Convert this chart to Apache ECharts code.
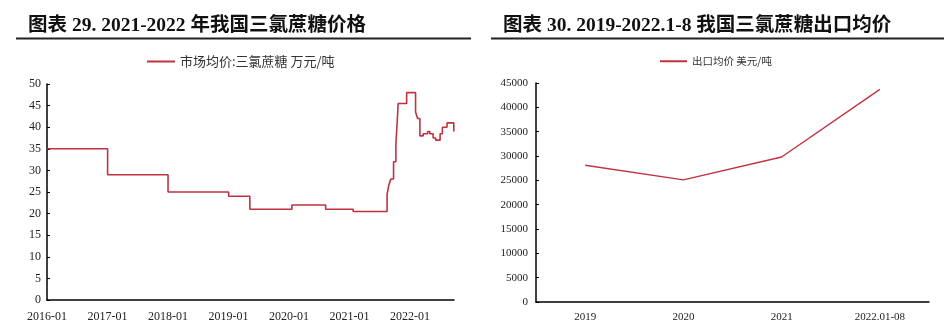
<!DOCTYPE html>
<html>
<head>
<meta charset="utf-8">
<script src="https://cdn.jsdelivr.net/npm/echarts@6/dist/echarts.min.js"></script>
<style>
html,body{margin:0;padding:0;background:#fff;}
#c{width:948px;height:327px;}
</style>
</head>
<body>
<div id="c"></div>
<script>
// Left chart: 市场均价:三氯蔗糖 (万元/吨), step changes
const priceDates = ['2016-01-01','2017-01-01','2018-01-01','2019-01-02','2019-05-10','2020-01-19','2020-08-10','2021-01-23',
  '2021-08-16','2021-08-26','2021-09-07','2021-09-24','2021-10-08','2021-10-14','2021-10-22','2021-12-12',
  '2022-02-04','2022-02-16','2022-03-02','2022-03-22','2022-04-18','2022-05-01','2022-05-21','2022-06-05',
  '2022-07-02','2022-07-16','2022-08-13','2022-09-23'];
const priceValues = [35,29,25,24,21,22,21,20.5,
  24.5,26.5,28,32,36,40,45.5,48,
  43.5,42,38,38.5,39,38.5,37.5,37,
  38.5,40,41,39];
const leftTitle = '图表 29. 2021-2022 年我国三氯蔗糖价格';
const leftLegend = '市场均价:三氯蔗糖 万元/吨';

// Right chart: 出口均价 (美元/吨)
const exportCats = ['2019','2020','2021','2022.01-08'];
const exportValues = [28100,25100,29800,43700];
const rightTitle = '图表 30. 2019-2022.1-8 我国三氯蔗糖出口均价';
const rightLegend = '出口均价 美元/吨';

const lineColor = '#C0323F';
const serif = '"Liberation Serif","Times New Roman","Noto Sans CJK SC",serif';
const labelColor = '#222';

const chart = echarts.init(document.getElementById('c'));
chart.setOption({
  animation: false,
  backgroundColor: '#fff',
  title: [
    {text: leftTitle, left: 23, top: 11, textStyle: {fontFamily: serif, fontWeight: 'bold', fontSize: 19.5, color: '#111'}},
    {text: rightTitle, left: 498, top: 11, textStyle: {fontFamily: serif, fontWeight: 'bold', fontSize: 19.5, color: '#111'}}
  ],
  graphic: [
    {type: 'line', shape: {x1: 16, y1: 38.5, x2: 471, y2: 38.5}, style: {stroke: '#222', lineWidth: 2}},
    {type: 'line', shape: {x1: 491, y1: 38.5, x2: 944, y2: 38.5}, style: {stroke: '#222', lineWidth: 2}}
  ],
  legend: [
    {data: [leftLegend], left: 142, top: 50, icon: 'rect', itemWidth: 28, itemHeight: 2, itemGap: 5,
      textStyle: {fontSize: 13, color: '#333', fontFamily: '"Noto Sans CJK SC",sans-serif'}},
    {data: [rightLegend], left: 655, top: 51, icon: 'rect', itemWidth: 27, itemHeight: 2, itemGap: 5,
      textStyle: {fontSize: 10.5, color: '#333', fontFamily: '"Noto Sans CJK SC",sans-serif'}}
  ],
  grid: [
    {left: 47, right: 948 - 454, top: 84, bottom: 27},
    {left: 536, right: 19, top: 83, bottom: 25}
  ],
  xAxis: [
    {type: 'time', gridIndex: 0, min: '2016-01-01', max: '2022-09-24',
      minInterval: 365 * 24 * 3600 * 1000, maxInterval: 366 * 24 * 3600 * 1000,
      axisLine: {lineStyle: {color: '#000', width: 1.5}}, axisTick: {show: false}, splitLine: {show: false},
      axisLabel: {formatter: '{yyyy}-{MM}', fontFamily: serif, fontSize: 12, color: labelColor, margin: 11,
        showMinLabel: true, showMaxLabel: false, hideOverlap: false}},
    {type: 'category', gridIndex: 1, data: exportCats, boundaryGap: true,
      axisLine: {lineStyle: {color: '#000', width: 1.5}}, axisTick: {show: false},
      axisLabel: {fontFamily: serif, fontSize: 11, color: labelColor, margin: 10}}
  ],
  yAxis: [
    {type: 'value', gridIndex: 0, min: 0, max: 50, interval: 5,
      axisLine: {show: true, lineStyle: {color: '#000', width: 1.5}},
      axisTick: {show: true, inside: true, length: 3, lineStyle: {color: '#000'}},
      splitLine: {show: false},
      axisLabel: {fontFamily: serif, fontSize: 12, color: labelColor, margin: 6}},
    {type: 'value', gridIndex: 1, min: 0, max: 45000, interval: 5000,
      axisLine: {show: true, lineStyle: {color: '#000', width: 1.5}},
      axisTick: {show: true, inside: true, length: 3, lineStyle: {color: '#000'}},
      splitLine: {show: false},
      axisLabel: {fontFamily: serif, fontSize: 11, color: labelColor, margin: 8, formatter: v => String(v)}}
  ],
  series: [
    {name: leftLegend, type: 'line', xAxisIndex: 0, yAxisIndex: 0, step: 'end', showSymbol: false,
      data: priceDates.map((d, i) => [d, priceValues[i]]),
      lineStyle: {color: lineColor, width: 1.6}, itemStyle: {color: lineColor}},
    {name: rightLegend, type: 'line', xAxisIndex: 1, yAxisIndex: 1, showSymbol: false,
      data: exportValues,
      lineStyle: {color: lineColor, width: 1.4}, itemStyle: {color: lineColor}}
  ]
});
</script>
</body>
</html>
